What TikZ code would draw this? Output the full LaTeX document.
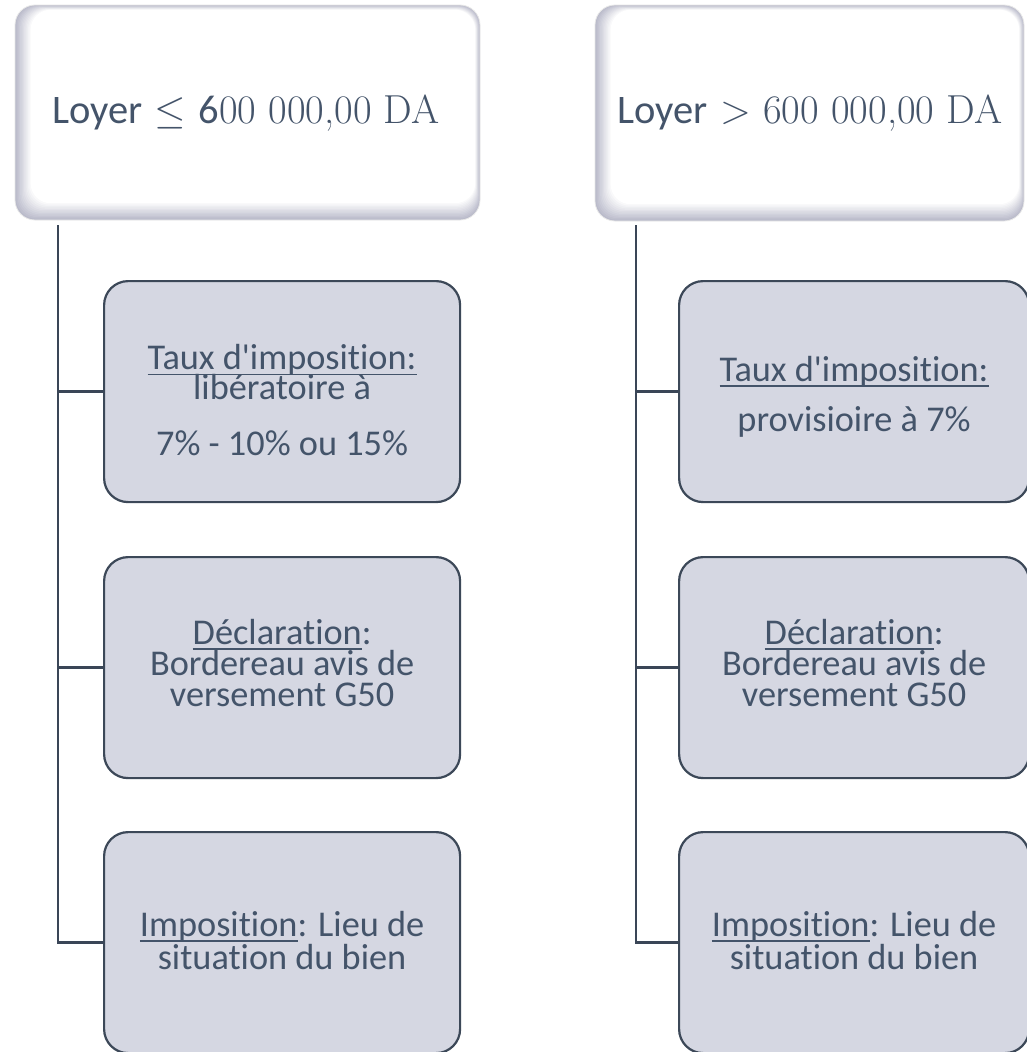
\RequirePackage{fix-cm}
\documentclass[tikz,border=0pt]{standalone}
\usepackage{fontspec}
\newfontfamily\calib[Ligatures=NoCommon]{Carlito}
\definecolor{txt}{HTML}{44546A}
\definecolor{boxfill}{HTML}{D5D7E2}
\definecolor{boxline}{HTML}{3C4858}
\definecolor{connc}{HTML}{3A4657}
\definecolor{bevel}{HTML}{B9BACA}
\newsavebox\ulbox
\newcommand{\ulx}[1]{\sbox\ulbox{#1}\rlap{\rule[-5.6pt]{\wd\ulbox}{1.6pt}}\usebox\ulbox}
\tikzset{
  childbox/.style={draw=boxline, line width=2.2pt, fill=boxfill, rounded corners=24pt,
    minimum height=221pt, inner sep=0pt, anchor=north west},
  childtext/.style={text=txt, align=center, inner sep=0pt,
    font=\calib\fontsize{36.3}{31}\selectfont},
  connline/.style={draw=connc, line width=2.6pt},
  toptext/.style={text=txt, inner sep=0pt, font=\fontsize{40.5}{44}\selectfont},
}
\newcommand{\bevelbox}[4]{%
  \foreach \i in {0,...,12}{
    \pgfmathsetmacro\pc{100-\i*8.3}
    \fill[bevel!\pc!white, rounded corners=20pt]
      ({#1+1.3*\i},{#2+0.4*\i}) rectangle ({#3-0.4*\i},{#4-1.4*\i});
  }
  \draw[black!9, line width=0.8pt, rounded corners=20pt] (#1,#2) rectangle (#3,#4);
}
\begin{document}
\begin{tikzpicture}[x=1pt,y=-1pt]
\useasboundingbox (0,0) rectangle (1026,1052);
\fill[white] (0,0) rectangle (1026,1052);
% top boxes
\bevelbox{15}{5}{480}{220}
\bevelbox{595}{5}{1024}{221}
\node[toptext] (t1) at (246,113) {{\calib Loyer} $\leq$ {\calib 6}00 000,00 DA};
\node[toptext] (t2) at (810,113) {{\calib Loyer} $>$ 600 000,00 DA};
% boxes
\node[childbox, minimum width=356pt] (l1) at (103,280) {};
\node[childbox, minimum width=356pt] (l2) at (103,556) {};
\node[childbox, minimum width=356pt] (l3) at (103,831) {};
\node[childbox, minimum width=350pt] (r1) at (678,280) {};
\node[childbox, minimum width=350pt] (r2) at (678,556) {};
\node[childbox, minimum width=350pt] (r3) at (678,831) {};
% texts
\node[childtext] (l1t) at ([yshift=-8.5pt]l1.center)
  {\ulx{Taux d'imposition:}\\[-2pt] libératoire à\\[25pt] 7\% - 10\% ou 15\%};
\node[childtext] (l2t) at ([yshift=5pt]l2.center)
  {\ulx{Déclaration}:\\ Bordereau avis de\\ versement G50};
\node[childtext] (l3t) at ([yshift=2.5pt]l3.center)
  {\ulx{Imposition}: Lieu de\\[1pt] situation du bien};
\node[childtext] (r1t) at ([yshift=-5pt]r1.center)
  {\ulx{Taux d'imposition:}\\[19pt] provisioire à 7\%};
\node[childtext] (r2t) at ([yshift=5pt]r2.center)
  {\ulx{Déclaration}:\\ Bordereau avis de\\ versement G50};
\node[childtext] (r3t) at ([yshift=2.5pt]r3.center)
  {\ulx{Imposition}: Lieu de\\[1pt] situation du bien};
% connectors
\coordinate (L0) at (58,225);
\coordinate (R0) at (636,225);
\draw[connline] (L0) |- (l3.west);
\draw[connline] (L0 |- l1.west) -- (l1.west);
\draw[connline] (L0 |- l2.west) -- (l2.west);
\draw[connline] (R0) |- (r3.west);
\draw[connline] (R0 |- r1.west) -- (r1.west);
\draw[connline] (R0 |- r2.west) -- (r2.west);
\end{tikzpicture}
\end{document}
